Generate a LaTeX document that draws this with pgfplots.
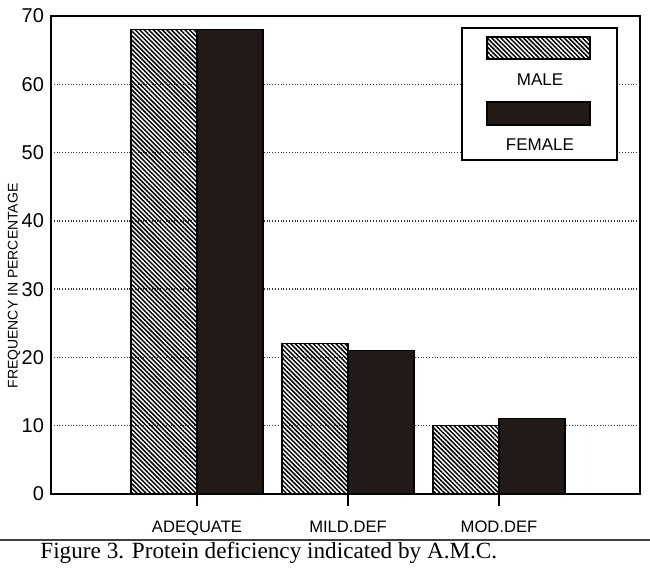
\documentclass[border=0pt]{standalone}
\usepackage{fontspec}
\setmainfont{Liberation Sans}
\newfontfamily\capfont{Liberation Serif}
\usepackage{pgfplots}
\pgfplotsset{compat=1.18}
\usetikzlibrary{patterns.meta}
\definecolor{fem}{RGB}{33,26,22}
\begin{document}
\begin{tikzpicture}
\useasboundingbox (0,0) rectangle (325pt,289pt);
\begin{axis}[
  at={(25.5pt,42pt)}, anchor=south west,
  scale only axis, width=294.5pt, height=239pt,
  xmin=-0.967, xmax=2.934, ymin=0, ymax=70,
  ytick={0,10,...,70},
  xtick={0,1,2},
  xticklabels={ADEQUATE,MILD.DEF,MOD.DEF},
  tick pos=left,
  tick align=outside,
  major tick length=6pt,
  ytick style={draw=none},
  xtick style={black, line width=0.6pt},
  ymajorgrids,
  major grid style={densely dotted, line width=0.7pt, black!80},
  axis line style={line width=0.8pt},
  /pgf/number format/assume math mode=true,
  yticklabel style={font=\fontsize{10}{12}\selectfont, xshift=6pt},
  xticklabel style={font=\fontsize{8.3}{10}\selectfont, yshift=-4pt},
  ybar,
  bar width=0.437,
]
\addplot[bar shift=-0.2185, draw=black, line width=0.6pt,
  pattern={Lines[angle=-45, distance=1.6pt, line width=0.75pt]}]
  coordinates {(0,68) (1,22) (2,10)};
\addplot[bar shift=0.2185, draw=black, line width=0.6pt, fill=fem]
  coordinates {(0,68) (1,21) (2,11)};
\end{axis}
% y label
\node[rotate=90, font=\fontsize{7}{8}\selectfont] at (7pt,146pt) {FREQUENCY IN PERCENTAGE};
% legend
\draw[line width=0.6pt, fill=white] (231pt,209pt) rectangle (308.5pt,275pt);
\draw[line width=0.6pt, pattern={Lines[angle=-45, distance=1.6pt, line width=0.75pt]}] (243.5pt,259.5pt) rectangle (295pt,270.5pt);
\node[font=\fontsize{8.5}{10}\selectfont] at (270pt,249pt) {MALE};
\draw[line width=0.6pt, fill=fem] (243.5pt,226.5pt) rectangle (295pt,238pt);
\node[font=\fontsize{8.5}{10}\selectfont] at (270pt,216.5pt) {FEMALE};
% caption
\draw[line width=0.8pt, black!75] (0,19pt) -- (325pt,19pt);
\node[anchor=base west, inner sep=0pt, font=\capfont\fontsize{11.6}{13}\selectfont] at (20pt,9.5pt) {Figure 3. Protein deficiency indicated by A.M.C.};
\end{tikzpicture}
\end{document}
